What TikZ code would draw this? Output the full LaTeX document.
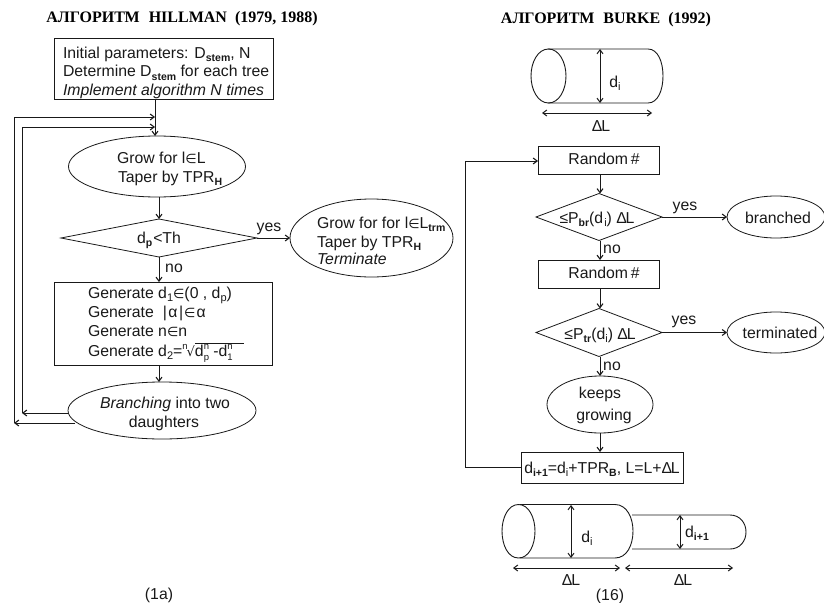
\documentclass[tikz,border=0pt]{standalone}
\usepackage{fontspec}
\setmainfont{Liberation Sans}
\newfontfamily\titlefont{Liberation Serif}
\newfontfamily\symfont{DejaVu Sans}
\usetikzlibrary{shapes.geometric,arrows.meta}
\newcommand{\sbs}[1]{\raisebox{-3pt}{\fontsize{10.5}{10.5}\selectfont\bfseries #1}}
\newcommand{\sbn}[1]{\raisebox{-3pt}{\fontsize{11}{11}\selectfont #1}}
\newcommand{\sbt}[1]{\raisebox{-4pt}{\fontsize{9.5}{9.5}\selectfont #1}}
\newcommand{\spn}[1]{\raisebox{7pt}{\fontsize{9.5}{9.5}\selectfont #1}}
\newcommand{\inn}{{\symfont\fontsize{13}{13}\selectfont ∈}}
\newcommand{\dl}{Δ\kern-1.2pt L}
\begin{document}
\begin{tikzpicture}[x=1pt,y=-1pt,
  every node/.style={font=\fontsize{15.8}{15.8}\selectfont,inner sep=0pt,outer sep=0pt,text=black!90},
  txl/.style={anchor=base west},
  txc/.style={anchor=base},
  arr/.style={line width=1pt,black!90,-{Straight Barb[length=4pt,width=6pt,line width=1.1pt]}},
  dbl/.style={line width=0.9pt,black!90,{Straight Barb[length=4pt,width=6pt,line width=1pt]}-{Straight Barb[length=4pt,width=6pt,line width=1pt]}},
  boxn/.style={draw=black!90,line width=1pt,rectangle},
  ell/.style={draw=black!90,line width=0.8pt,ellipse},
  dia/.style={draw=black!90,line width=0.8pt,diamond,aspect=3},
  ttl/.style={font=\titlefont\bfseries\fontsize{16}{16}\selectfont,text=black}]
\useasboundingbox (0,0) rectangle (824,602);
% titles
\node[ttl] (t1) at (182,19) {АЛГОРИТМ\hspace{5pt} HILLMAN\hspace{4pt} (1979, 1988)};
\node[ttl] (t2) at (606,20) {АЛГОРИТМ\hspace{5pt} BURKE\hspace{4pt} (1992)};
% left flow
\node[boxn,minimum width=219pt,minimum height=60pt] (a1) at (163.5,69) {};
\node[txl] (a1a) at (63,59) {Initial parameters: D\sbs{stem}, N};
\node[txl] (a1b) at (63,77) {Determine D\sbs{stem} for each tree};
\node[txl] (a1c) at (63,95) {\itshape Implement algorithm N times};
\node[ell,minimum width=177pt,minimum height=61pt] (a2) at (157,166.5) {};
\node[txl] (a2a) at (117,163) {Grow for l\inn L};
\node[txl] (a2b) at (118,182) {Taper by TPR\sbs{H}};
\node[dia,minimum width=196pt,minimum height=38pt] (a3) at (159,238) {};
\node[txc] (a3t) at (159,243) {d\sbs{p}\kern1pt<Th};
\node[ell,minimum width=163pt,minimum height=78pt] (a4) at (371.5,238) {};
\node[txl] (a4a) at (317,228) {Grow for for l\inn L\sbs{trm}};
\node[txl] (a4b) at (317,247) {Taper by TPR\sbs{H}};
\node[txl] (a4c) at (317,264) {\itshape Terminate};
\node[boxn,minimum width=218pt,minimum height=83pt] (a5) at (163,323.5) {};
\node[txl] (a5a) at (88,298) {Generate d\sbn{1}\inn (0 , d\sbn{p})};
\node[txl] (a5b) at (88,317) {Generate\hspace{9pt}|\kern1.5pt α\kern1.5pt|\kern1pt\inn\kern1pt α};
\node[txl] (a5c) at (88,336) {Generate n\inn n};
\node[txl] (a5d) at (88,356) {Generate d\sbn{2}=\spn{n}\kern-1pt{\symfont\fontsize{13}{13}\selectfont √}\rlap{\raisebox{12.5pt}{\rule{49pt}{0.7pt}}}d\rlap{\spn{n}}\sbt{p} -d\rlap{\spn{n}}\sbt{1}};
\node[ell,minimum width=188pt,minimum height=57pt] (a6) at (162,410.5) {};
\node[txc] (a6a) at (165,408) {\itshape Branching\upshape{} into two};
\node[txc] (a6b) at (164,427) {daughters};
\coordinate (ftop) at (155,99);
\coordinate (f1) at (155,117);
\coordinate (f2) at (155,127);
\coordinate (ob) at (75,423);
\coordinate (o1) at (14,423);
\coordinate (o2) at (22,413);
\draw[arr] (ftop) -- (155,136);
\draw[arr] (a6.west |- o2) -- (o2);
\draw[arr] (ob) -- (o1);
\draw[arr] (o1) -- (14,117) -- (f1);
\draw[arr] (o2) -- (22,127) -- (f2);
\draw[arr] (a3.north |- a2.south) -- (a3.north);
\draw[arr] (a3.east) -- (a4.west);
\node[txc] (ly1) at (269,231) {yes};
\draw[arr] (a3.south) -- (a3.south |- a5.north);
\node[txc] (ln1) at (174,272) {no};
\draw[arr] (a3.south |- a5.south) -- (a3.south |- a6.north);
% right flow
\node[boxn,minimum width=121pt,minimum height=28pt] (b1) at (598.5,160) {};
\node[txc] (b1t) at (604,164) {Random\,\#};
\node[dia,minimum width=126pt,minimum height=47pt] (b2) at (599,217) {};
\node[txc] (b2t) at (597,223) {≤P\sbs{br}(d\kern1pt\sbn{i}) \dl};
\node[ell,minimum width=98pt,minimum height=42pt] (b3) at (776,217) {};
\node[txc] (b3t) at (778,223) {branched};
\node[boxn,minimum width=121pt,minimum height=28pt] (b4) at (598.5,274) {};
\node[txc] (b4t) at (604,278) {Random\,\#};
\node[dia,minimum width=126pt,minimum height=48pt] (b5) at (599,332.5) {};
\node[txc] (b5t) at (600,339) {≤P\sbs{tr}(d\sbn{i}) \dl};
\node[ell,minimum width=98pt,minimum height=41pt] (b6) at (776,332.5) {};
\node[txc] (b6t) at (780,338) {terminated};
\node[ell,minimum width=106pt,minimum height=57pt] (b7) at (600,404.5) {};
\node[txc] (b7a) at (600,398) {keeps};
\node[txc] (b7b) at (604,420) {growing};
\node[boxn,minimum width=162pt,minimum height=31pt] (b8) at (602,467.5) {};
\node[txc] (b8t) at (602,473) {d\sbs{i+1}=d\sbn{i}+TPR\sbs{B}, L=L+\dl};
\coordinate (vx) at (600,0);
\draw[arr] (vx |- b1.south) -- (vx |- b2.north);
\draw[arr] (b2.east) -- (b3.west);
\node[txc] (ly2) at (685,210) {yes};
\draw[arr] (vx |- b2.south) -- (vx |- b4.north);
\node[txc] (ln2) at (612,253) {no};
\draw[arr] (vx |- b4.south) -- (vx |- b5.north);
\draw[arr] (b5.east) -- (b6.west);
\node[txc] (ly3) at (684,324) {yes};
\draw[arr] (vx |- b5.south) -- (vx |- b7.north);
\node[txc] (ln3) at (612,370) {no};
\draw[arr] (vx |- b7.south) -- (vx |- b8.north);
\coordinate (fb) at (465,467.5);
\coordinate (fc) at (465,161);
\draw[arr] (b8.west) -- (fb) -- (fc) -- (b1.west |- fc);
% cylinders
\begin{scope}[line width=0.9pt,black!90]
\draw (548,49) -- (648,49) .. controls (658,49) and (663,62) .. (663,76) .. controls (663,90) and (658,103) .. (648,103) -- (548,103);
\draw (548.5,49) .. controls (538,49) and (531,62) .. (531,76) .. controls (531,90) and (538,103) .. (548.5,103) .. controls (559,103) and (566,90) .. (566,76) .. controls (566,62) and (559,49) .. (548.5,49) -- cycle;
\draw[dbl] (600,49) -- (600,103);
\draw[dbl] (542,113) -- (652,113);
\draw (520,504.5) -- (615,504.5) .. controls (627,504.5) and (633,518) .. (633,531) .. controls (633,545) and (627,558) .. (615,558) -- (520,558);
\draw (518.5,504.5) .. controls (508,504.5) and (502,518) .. (502,531) .. controls (502,545) and (508,558) .. (518.5,558) .. controls (529,558) and (535,545) .. (535,531) .. controls (535,518) and (529,504.5) .. (518.5,504.5) -- cycle;
\draw (632,515) -- (730,515) .. controls (740,515) and (746,523) .. (746,532) .. controls (746,541) and (740,549) .. (730,549) -- (632,549);
\draw[dbl] (571,505) -- (571,558);
\draw[dbl] (680,515) -- (680,549);
\draw[dbl] (513,568) -- (620,568);
\draw[dbl] (625,568) -- (733,568);
\end{scope}
\node[txc] (c1) at (615,87) {d\sbn{i}};
\node[txc] (c2) at (601,131) {\dl};
\node[txc] (c3) at (587,542) {d\sbn{i}};
\node[txc] (c4) at (697,537) {d\sbs{i+1}};
\node[txc] (c5) at (571,585) {\dl};
\node[txc] (c6) at (683,585) {\dl};
\node[txc] (c7) at (610,600) {(16)};
\node[txc] (c8) at (159,599) {(1a)};
\end{tikzpicture}
\end{document}
